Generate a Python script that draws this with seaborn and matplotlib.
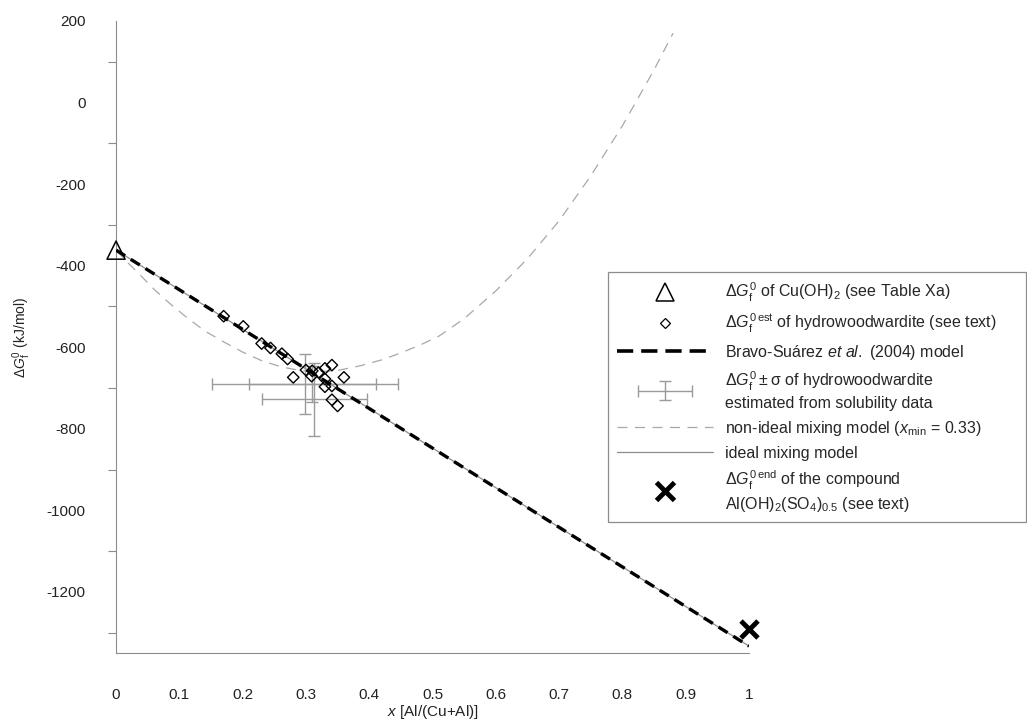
import numpy as np
import matplotlib
matplotlib.use("Agg")
import matplotlib.pyplot as plt
import seaborn as sns
from matplotlib.lines import Line2D
from matplotlib.container import ErrorbarContainer
from matplotlib.legend_handler import HandlerErrorbar
from matplotlib.ticker import MultipleLocator, FixedLocator, FuncFormatter

# end members
x_cu = [0.0]
g_cu = [-362]
x_end = [1.0]
g_end = [-1292]

# straight lines between the end members
x_lin = [0.0, 1.0]
g_bravo = [-362, -1333]
g_ideal = [-362, -1333]

# estimated dGf of hydrowoodwardite
x_est = [0.170, 0.201, 0.230, 0.244, 0.262, 0.271, 0.280, 0.300, 0.310, 0.309,
         0.320, 0.330, 0.341, 0.330, 0.330, 0.341, 0.360, 0.341, 0.350]
g_est = [-524, -549, -591, -602, -616, -629, -674, -656, -658, -671,
         -662, -652, -644, -678, -697, -695, -674, -729, -744]

# solubility data with sigma
x_sol = [0.299, 0.310, 0.313]
g_sol = [-690, -690, -728]
xerr_sol = [0.147, 0.100, 0.083]
gerr_sol = [73, 45, 89]

# non-ideal mixing model
x_nonideal = [0.0, 0.02, 0.04, 0.06, 0.085, 0.11, 0.14, 0.17, 0.20, 0.23, 0.26,
              0.29, 0.32, 0.35, 0.385, 0.42, 0.45, 0.48, 0.51, 0.55, 0.60, 0.65,
              0.70, 0.75, 0.80, 0.85, 0.88]
g_nonideal = [-362, -395, -426, -458, -493, -525, -560, -587, -612, -633, -648,
              -657, -660, -657, -646, -631, -614, -595, -573, -530, -462, -383,
              -290, -180, -57, 80, 170]

sns.set_theme(style="white")
plt.rcParams['font.family'] = ['Liberation Sans', 'DejaVu Sans']
plt.rcParams['mathtext.fontset'] = 'custom'
plt.rcParams['mathtext.rm'] = 'Liberation Sans'
plt.rcParams['mathtext.it'] = 'Liberation Sans:italic'
plt.rcParams['mathtext.bf'] = 'Liberation Sans:bold'
plt.rcParams['axes.unicode_minus'] = False

grey = '#8c8c8c'

fig = plt.figure(figsize=(10.27, 7.23), dpi=100)
ax = fig.add_axes([0.113, 0.0968, 0.6163, 0.8742])

# ideal mixing
sns.lineplot(x=x_lin, y=g_ideal, color=grey, linewidth=0.9, ax=ax, zorder=2)
# non-ideal mixing
sns.lineplot(x=x_nonideal, y=g_nonideal, color='#a8a8a8', linewidth=0.9,
             ax=ax, sort=False, zorder=2)
ax.lines[-1].set_dashes((8, 6))
# Bravo-Suarez
sns.lineplot(x=x_lin, y=g_bravo, color='black', linewidth=2.4, ax=ax, zorder=3)
ax.lines[-1].set_dashes((3.2, 2.0))

eb = ax.errorbar(x_sol, g_sol, xerr=xerr_sol, yerr=gerr_sol, fmt='none',
                 ecolor='#9a9a9a', elinewidth=1.0, capsize=4, capthick=1.0,
                 zorder=2)

sns.scatterplot(x=x_est, y=g_est, marker='D', s=34, facecolors='none',
                edgecolor='black', linewidth=1.0, ax=ax, zorder=4)
sns.scatterplot(x=x_cu, y=g_cu, marker='^', s=170, facecolors='none',
                edgecolor='black', linewidth=1.1, ax=ax, zorder=5, clip_on=False)
sns.scatterplot(x=x_end, y=g_end, marker='x', s=150, color='black',
                linewidth=3.5, ax=ax, zorder=5, clip_on=False)

ax.set_xlim(0, 1)
ax.set_ylim(-1350, 200)
ax.xaxis.set_major_locator(FixedLocator(np.round(np.arange(0, 1.01, 0.1), 1)))
ax.xaxis.set_major_formatter(FuncFormatter(lambda v, p: f"{v:g}"))
ax.yaxis.set_major_locator(MultipleLocator(200))
ax.yaxis.set_minor_locator(MultipleLocator(100))

for s in ['top', 'right']:
    ax.spines[s].set_visible(False)
for s in ['left', 'bottom']:
    ax.spines[s].set_color(grey)
    ax.spines[s].set_linewidth(0.8)

ax.tick_params(axis='both', which='major', direction='out', length=15,
               width=0.8, color=grey, labelsize=11, labelcolor='#222222')
ax.tick_params(axis='y', which='minor', direction='out', length=6,
               width=0.8, color=grey, left=True)
ax.tick_params(axis='x', which='major', pad=10)
ax.tick_params(axis='y', which='major', pad=7)

ax.set_xlabel(r"$x$ [Al/(Cu+Al)]", fontsize=11, color='#222222')
ax.xaxis.set_label_coords(0.5, -0.093)
ax.xaxis.label.set_va('center')
ax.set_ylabel(r"$\Delta G^0_\mathrm{f}$ (kJ/mol)", fontsize=10, color='#222222')
ax.yaxis.set_label_coords(-0.132, 0.5)

handles = [
    Line2D([], [], ls='none', marker='^', ms=13, mfc='none', mec='black', mew=1.1),
    Line2D([], [], ls='none', marker='D', ms=5, mfc='none', mec='black', mew=0.9),
    Line2D([], [], color='black', lw=2.6, dashes=(4.5, 2.2)),
    eb,
    Line2D([], [], color='#a8a8a8', lw=0.9, dashes=(8, 6)),
    Line2D([], [], color=grey, lw=0.9),
    Line2D([], [], ls='none', marker='x', ms=13, mew=3.5, color='black'),
]
labels = [
    r"$\Delta G^0_\mathrm{f}$ of Cu(OH)$_2$ (see Table Xa)",
    r"$\Delta G^{0\,\mathrm{est}}_\mathrm{f}$ of hydrowoodwardite (see text)",
    r"Bravo-Suárez $et\ al.$ (2004) model",
    "$\\Delta G^0_\\mathrm{f} \\pm \\mathrm{\\sigma}$ of hydrowoodwardite\nestimated from solubility data",
    r"non-ideal mixing model ($x_\mathrm{min}$ = 0.33)",
    "ideal mixing model",
    "$\\Delta G^{0\\,\\mathrm{end}}_\\mathrm{f}$ of the compound\nAl(OH)$_2$(SO$_4$)$_{0.5}$ (see text)",
]
leg = ax.legend(handles, labels, loc='upper left',
                bbox_to_anchor=(0.592, 0.277, 0.407, 0.347),
                bbox_transform=fig.transFigure, mode='expand',
                frameon=True, fancybox=False, edgecolor=grey, framealpha=1,
                fontsize=11.5, handlelength=6.0, handletextpad=0.8,
                labelspacing=0.5, borderpad=0.55, borderaxespad=0,
                handler_map={ErrorbarContainer: HandlerErrorbar(xerr_size=1.7,
                                                                yerr_size=0.6)})
leg.get_frame().set_linewidth(0.9)
leg.set_zorder(10)

fig.savefig('out.png', dpi=100)
